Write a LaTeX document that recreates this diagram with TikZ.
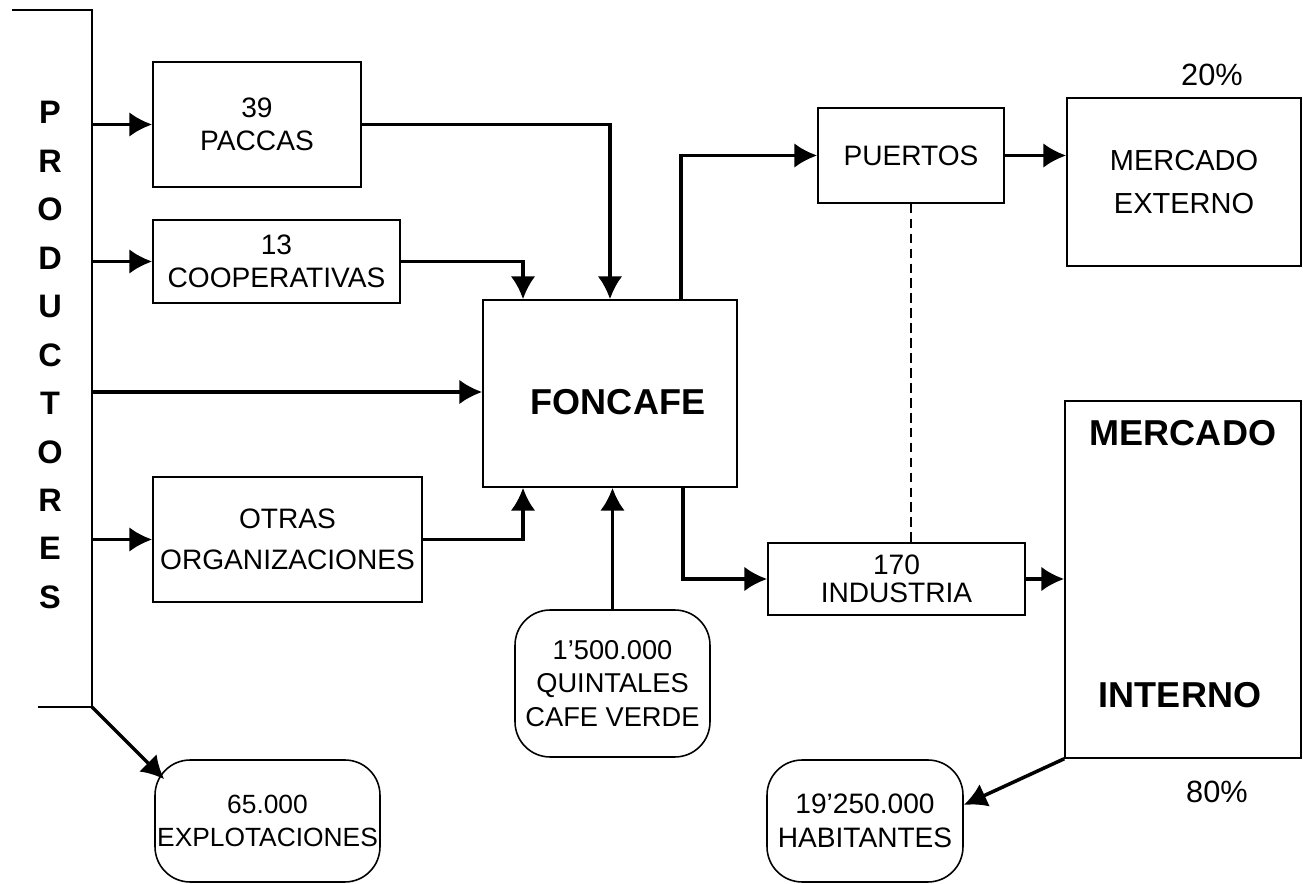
\documentclass[tikz,border=0pt]{standalone}
\usepackage{fontspec}
\setmainfont{Liberation Sans}
\usetikzlibrary{arrows.meta}

\tikzset{
	caja/.style={draw, line width=0.9pt, inner sep=0pt, align=center},
	redonda/.style={caja, rounded corners=20pt},
	flecha/.style={line width=2pt, -{Latex[length=13pt,width=14pt]}},
	linea/.style={line width=1.1pt},
	punteada/.style={line width=1.2pt, dash pattern=on 5.5pt off 3pt},
	grande/.style={font=\fontsize{20.5}{24}\selectfont\bfseries},
	pct/.style={font=\fontsize{17.5}{20}\selectfont}
}

\begin{document}
\begin{tikzpicture}[x=0.02cm, y=-0.02cm, font=\fontsize{16}{19}\selectfont]
	\useasboundingbox (0,0) rectangle (1303,884);

	% productores
	\node at (50,355)[font=\fontsize{18.5}{27.6}\selectfont\bfseries, align=center]{P\\R\\O\\D\\U\\C\\T\\O\\R\\E\\S};
	\coordinate (p1) at (92,124.5);
	\coordinate (p2) at (92,261.5);
	\coordinate (p3) at (92,392);
	\coordinate (p4) at (92,539.5);
	\coordinate (p5) at (92,707);
	\draw[linea] (12,10) -- (92,10) -- (p5) -- (38,707);

	\node at (257,124.5)(pac)[caja, minimum width=4.16cm, minimum height=2.5cm]{39\\PACCAS};
	\node at (276.5,261.5)(coop)[caja, minimum width=4.94cm, minimum height=1.66cm]{13\\COOPERATIVAS};
	\node at (287.5,539.5)(otras)[caja, minimum width=5.38cm, minimum height=2.5cm, font=\fontsize{16}{23}\selectfont]{OTRAS\\ORGANIZACIONES};
	\node at (267.5,821)(expl)[redonda, minimum width=4.5cm, minimum height=2.44cm, font=\fontsize{15}{18.5}\selectfont]{65.000\\EXPLOTACIONES};

	\node at (610,393.5)(fon)[caja, minimum width=5.08cm, minimum height=3.74cm]{};
	\node at (618,402)[grande]{FONCAFE};
	\node at (612.5,683.5)(quin)[redonda, minimum width=3.9cm, minimum height=2.94cm, font=\fontsize{15.5}{19}\selectfont]{1'500.000\\QUINTALES\\CAFE VERDE};

	\node at (911,155.5)(pue)[caja, minimum width=3.72cm, minimum height=1.9cm]{PUERTOS};
	\node at (896.5,579)(ind)[caja, minimum width=5.14cm, minimum height=1.44cm, font=\fontsize{16}{16}\selectfont]{170\\INDUSTRIA};
	\node at (865,821)(hab)[redonda, minimum width=3.92cm, minimum height=2.44cm]{19'250.000\\HABITANTES};

	\node at (1184,182)(mext)[caja, minimum width=4.68cm, minimum height=3.36cm, font=\fontsize{16.5}{24}\selectfont]{MERCADO\\EXTERNO};
	\node at (1183,579.5)(mint)[caja, minimum width=4.72cm, minimum height=7.14cm]{};
	\node at (1183,433)[grande]{MERCADO};
	\node at (1180,695)[grande]{INTERNO};
	\node at (1212,75)[pct]{20\%};
	\node at (1217,792)[pct]{80\%};

	\path[flecha] (p1)edge(pac.west) (p2)edge(coop.west) (p4)edge(otras.west) (p3)edge(p3 -| fon.west);
	\draw[flecha] (p5) -- ([shift={(10,20)}]expl.north west);

	\draw[flecha] (pac.east) -| (fon.north);
	\draw[flecha] (coop.east) -| ([xshift=-1.74cm]fon.north);
	\draw[flecha] (otras.east) -| ([xshift=-1.74cm]fon.south);
	\draw[flecha] (quin.north) -- (quin.north |- fon.south);

	\draw[flecha] ([xshift=1.42cm]fon.north) |- (pue.west);
	\draw[flecha] ([xshift=1.46cm]fon.south) |- (ind.west);
	\draw[flecha] (pue.east) -- (pue.east -| mext.west);
	\draw[flecha] (ind.east) -- (ind.east -| mint.west);
	\draw[punteada] (pue.south) -- (pue.south |- ind.north);
	\draw[flecha] (mint.south west) -- ([yshift=0.32cm]hab.east);
\end{tikzpicture}
\end{document}
